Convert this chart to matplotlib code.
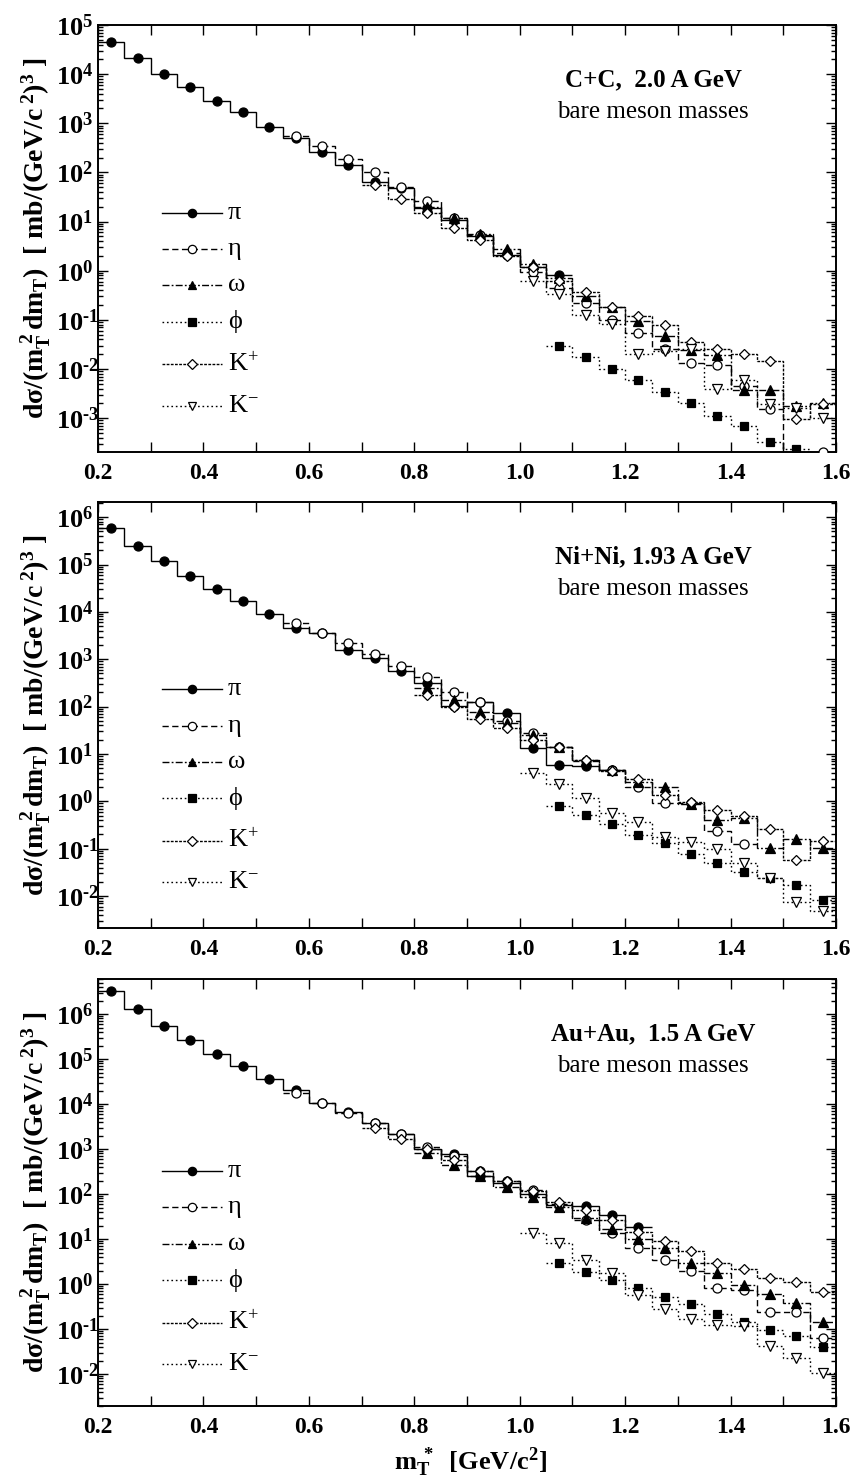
import numpy as np
import matplotlib
matplotlib.use('Agg')
import matplotlib.pyplot as plt
from matplotlib.ticker import LogLocator, NullFormatter, MultipleLocator, FuncFormatter

plt.rcParams['font.family'] = ['Liberation Serif', 'DejaVu Serif']
plt.rcParams['mathtext.fontset'] = 'custom'
plt.rcParams['mathtext.rm'] = 'Liberation Serif'
plt.rcParams['mathtext.it'] = 'Liberation Serif:italic'
plt.rcParams['mathtext.bf'] = 'Liberation Serif:bold'

# ---------------- data ----------------
bin_edges = [0.20, 0.25, 0.30, 0.35, 0.40, 0.45, 0.50, 0.55, 0.60, 0.65, 0.70, 0.75,
             0.80, 0.85, 0.90, 0.95, 1.00, 1.05, 1.10, 1.15, 1.20, 1.25, 1.30, 1.35,
             1.40, 1.45, 1.50, 1.55, 1.60]
species = ['pi', 'eta', 'omega', 'phi', 'Kp', 'Km']
legend_labels = ['π', 'η', 'ω', 'ϕ', r'K$^{+}$', r'K$^{-}$']

# index of the first m_T bin of each species, per panel
cc_start = {'pi': 0, 'eta': 7, 'omega': 12, 'phi': 17, 'Kp': 10, 'Km': 16}
ni_start = {'pi': 0, 'eta': 7, 'omega': 12, 'phi': 17, 'Kp': 12, 'Km': 16}
au_start = {'pi': 0, 'eta': 7, 'omega': 12, 'phi': 17, 'Kp': 10, 'Km': 16}

# C+C, 2.0 A GeV
cc_pi = [4.6e4, 2.1e4, 1.0e4, 5.6e3, 2.9e3, 1.66e3, 850, 510, 265, 140, 65, 48, 19, 11,
         5.0, 2.1, 1.2, 0.82]
cc_eta = [555, 340, 187, 100, 50, 25.6, 12, 5.4, 2.3, 0.95, 0.45, 0.22, 0.098, 0.053,
          0.025, 0.0131, 0.0123, 0.0045, 0.0015, 1.5e-4, 2.0e-4]
cc_omega = [20, 11.7, 5.6, 2.7, 1.37, 0.7, 0.3, 0.18, 0.093, 0.046, 0.0246, 0.0196,
            0.0038, 0.0038, 0.0018, 0.002]
cc_phi = [0.030, 0.0178, 0.010, 0.006, 0.0034, 0.0020, 0.0011, 0.00069, 0.00032,
          0.00024, 1.5e-4]
cc_kp = [56, 29, 14.8, 7.4, 4.2, 2.0, 1.17, 0.63, 0.36, 0.18, 0.117, 0.079, 0.035,
         0.026, 0.0204, 0.0145, 0.00095, 0.0019]
cc_km = [0.61, 0.34, 0.123, 0.083, 0.020, 0.023, 0.025, 0.004, 0.0059, 0.0019, 0.0016,
         0.00102]

# Ni+Ni, 1.93 A GeV
ni_pi = [6.0e5, 2.46e5, 1.2e5, 5.8e4, 3.0e4, 1.7e4, 8.9e3, 4.6e3, 3.5e3, 1.56e3, 1.07e3,
         560, 310, 105, 126, 73, 13.3, 5.8, 5.5, 4.5]
ni_eta = [5.9e3, 3.5e3, 2.2e3, 1.26e3, 720, 425, 200, 126, 50, 27.5, 13.8, 7.0, 4.6,
          2.05, 0.91, 0.9, 0.24, 0.125]
ni_omega = [245, 138, 78, 45, 25, 13.8, 7.4, 4.5, 2.5, 2.0, 0.87, 0.40, 0.44, 0.102,
            0.158, 0.105]
ni_phi = [0.8, 0.51, 0.33, 0.195, 0.13, 0.078, 0.051, 0.032, 0.024, 0.017, 0.0083]
ni_kp = [173, 100, 54, 35, 20, 13.8, 7.4, 4.3, 2.95, 1.38, 0.99, 0.66, 0.49, 0.26,
         0.057, 0.146]
ni_km = [3.9, 2.3, 1.2, 0.56, 0.36, 0.18, 0.14, 0.099, 0.049, 0.024, 0.0076, 0.0049]

# Au+Au, 1.5 A GeV
au_pi = [3.2e6, 1.29e6, 5.5e5, 2.6e5, 1.29e5, 7.0e4, 3.6e4, 2.1e4, 1.04e4, 6.6e3, 3.8e3,
         2.2e3, 1.0e3, 790, 250, 175, 100, 57, 54, 34, 18.3]
au_eta = [1.78e4, 1.04e4, 6.4e3, 3.8e3, 2.2e3, 1.12e3, 690, 325, 200, 123, 60, 27, 13.5,
          6.2, 3.5, 2.0, 0.80, 0.74, 0.235, 0.235, 0.062]
au_omega = [800, 440, 250, 145, 85, 51, 29, 16.5, 9.9, 6.2, 2.9, 1.78, 0.95, 0.60, 0.37,
            0.145]
au_phi = [2.96, 1.82, 1.23, 0.80, 0.52, 0.36, 0.215, 0.14, 0.095, 0.069, 0.039]
au_kp = [2.9e3, 1.67e3, 1.0e3, 570, 325, 194, 115, 68, 44, 26, 14.5, 9.1, 5.5, 2.9,
         2.14, 1.35, 1.1, 0.66]
au_km = [13.5, 8.0, 3.4, 1.72, 0.57, 0.28, 0.165, 0.122, 0.117, 0.043, 0.023, 0.0103]

panels = [
    dict(title='C+C,  2.0 A GeV', ylim=(10**-3.69, 1e5), start=cc_start,
         series=dict(pi=cc_pi, eta=cc_eta, omega=cc_omega, phi=cc_phi, Kp=cc_kp, Km=cc_km)),
    dict(title='Ni+Ni, 1.93 A GeV', ylim=(10**-2.675, 10**6.32), start=ni_start,
         series=dict(pi=ni_pi, eta=ni_eta, omega=ni_omega, phi=ni_phi, Kp=ni_kp, Km=ni_km)),
    dict(title='Au+Au,  1.5 A GeV', ylim=(10**-2.71, 10**6.78), start=au_start,
         series=dict(pi=au_pi, eta=au_eta, omega=au_omega, phi=au_phi, Kp=au_kp, Km=au_km)),
]
subtitle = 'bare meson masses'
xticks_major = [0.2, 0.4, 0.6, 0.8, 1.0, 1.2, 1.4, 1.6]

# ---------------- styles ----------------
style = {
    'pi':    dict(ls='-',                       marker='o', mfc='black', ms=6.5),
    'eta':   dict(ls=(0, (4.5, 2.5)),            marker='o', mfc='white', ms=6.5),
    'omega': dict(ls=(0, (5, 1.6, 1.3, 1.6)),    marker='^', mfc='black', ms=6.5),
    'phi':   dict(ls=(0, (1.2, 2.0)),            marker='s', mfc='black', ms=6),
    'Kp':    dict(ls=(0, (2.0, 1.0)),            marker='D', mfc='white', ms=5.5),
    'Km':    dict(ls=(0, (1.2, 2.0)),            marker='v', mfc='white', ms=6.5),
}

edges = np.array(bin_edges)
centers = 0.5 * (edges[:-1] + edges[1:])

fig = plt.figure(figsize=(8.55, 14.81), dpi=100)
axes_pos = [
    [98 / 855, 1 - 452 / 1481, 738 / 855, 427 / 1481],
    [98 / 855, 1 - 928 / 1481, 738 / 855, 426 / 1481],
    [98 / 855, 1 - 1406 / 1481, 738 / 855, 427 / 1481],
]

def yfmt(v, pos):
    e = int(np.round(np.log10(v)))
    return r'$\mathbf{10^{%s}}$' % str(e).replace('-', '\u2010')

legend_rows = [0.56, 0.475, 0.39, 0.305, 0.205, 0.108]

for ip, (pan, pos) in enumerate(zip(panels, axes_pos)):
    ax = fig.add_axes(pos)
    ax.set_yscale('log')
    ax.set_xlim(0.2, 1.6)
    ax.set_ylim(*pan['ylim'])
    for sp in species:
        vals = np.array(pan['series'][sp], dtype=float)
        s = pan['start'][sp]
        n = len(vals)
        st = style[sp]
        ax.stairs(vals, edges[s:s + n + 1], baseline=None, color='black',
                  linestyle=st['ls'], linewidth=1.0, zorder=2)
        ax.plot(centers[s:s + n], vals, linestyle='none', marker=st['marker'],
                mfc=st['mfc'], mec='black', mew=0.9, ms=st['ms'], color='black',
                zorder=3, clip_on=True)
    # ticks
    ax.xaxis.set_major_locator(plt.FixedLocator(xticks_major))
    ax.xaxis.set_minor_locator(MultipleLocator(0.1))
    ax.xaxis.set_major_formatter(FuncFormatter(lambda v, p: '%.1f' % v))
    lo, hi = pan['ylim']
    decades = [10.0 ** e for e in range(-4, 8) if lo <= 10.0 ** e <= hi]
    ax.yaxis.set_major_locator(plt.FixedLocator(decades))
    ax.yaxis.set_minor_locator(LogLocator(base=10, subs=np.arange(2, 10), numticks=20))
    ax.yaxis.set_major_formatter(FuncFormatter(yfmt))
    ax.yaxis.set_minor_formatter(NullFormatter())
    ax.tick_params(which='both', direction='in', top=True, right=True, width=1.0)
    ax.tick_params(which='major', length=7)
    ax.tick_params(which='minor', length=3.5)
    ax.tick_params(axis='x', which='minor', length=7)
    ax.tick_params(axis='x', labelsize=17, pad=8)
    ax.tick_params(axis='y', labelsize=19, pad=30)
    for lab in ax.get_xticklabels():
        lab.set_fontweight('bold')
    for lab in ax.get_yticklabels():
        lab.set_horizontalalignment('left')
    for spn in ax.spines.values():
        spn.set_linewidth(1.4)
    # annotations
    ax.text(0.752, 0.872, pan['title'], transform=ax.transAxes, ha='center', va='center',
            fontsize=18, fontweight='bold')
    ax.text(0.752, 0.796, subtitle, transform=ax.transAxes, ha='center', va='center',
            fontsize=18)
    # legend (hand-drawn)
    dy = -0.01 if ip == 2 else 0.0
    x0, x1 = 0.087, 0.168
    for k, sp in enumerate(species):
        st = style[sp]
        yy = legend_rows[k] + dy
        ax.plot([x0, x1], [yy, yy], transform=ax.transAxes, color='black',
                linestyle=st['ls'], linewidth=1.0)
        ax.plot([(x0 + x1) / 2], [yy], transform=ax.transAxes, linestyle='none',
                marker=st['marker'], mfc=st['mfc'], mec='black', mew=0.9, ms=st['ms'] - 0.5)
        ax.text(x1 + 0.008, yy, legend_labels[k], transform=ax.transAxes, ha='left',
                va='center', fontsize=19)
    # y label
    ycen = pos[1] + pos[3] / 2
    fig.text(36 / 855, ycen,
             r'd$\mathbf{\sigma}$/($\mathbf{m_T^{\ 2}\,dm_T}$)  [ mb/(GeV/c$\mathbf{^{\ 2}}$)$\mathbf{^{3}}$ ]',
             rotation=90, ha='center', va='center', fontsize=20, fontweight='bold')

fig.text(470 / 855, 1 - 1462 / 1481, r'$\mathbf{m_T^{\ *}}$  [GeV/c$\mathbf{^{2}}$]',
         ha='center', va='center', fontsize=19, fontweight='bold')

fig.savefig('out.png', dpi=100)
